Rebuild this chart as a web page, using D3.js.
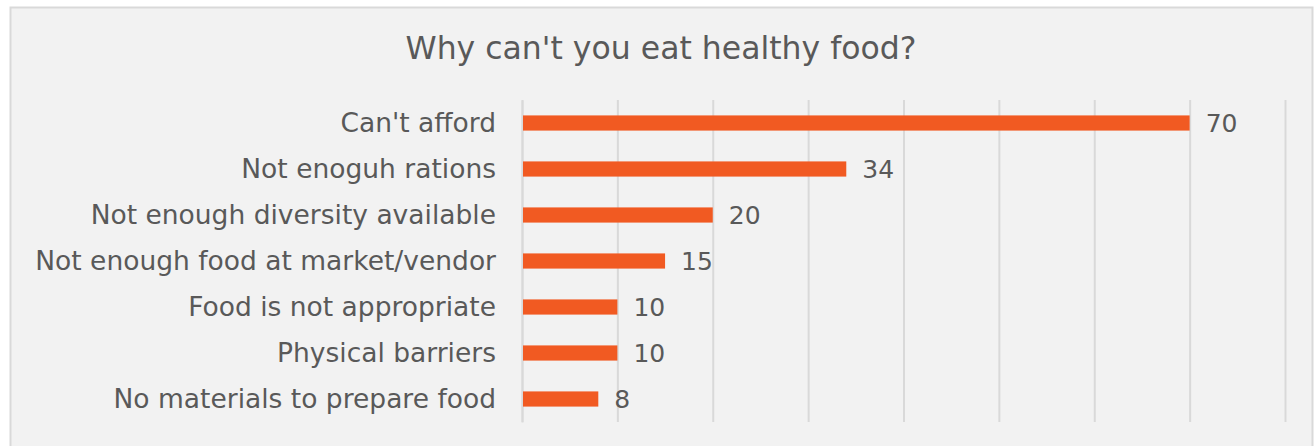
<!DOCTYPE html>
<html>
<head>
<meta charset="utf-8">
<script src="https://cdn.jsdelivr.net/npm/d3@7"></script>
<style>
  html, body { margin: 0; padding: 0; background: #ffffff; }
  svg { display: block; }
</style>
</head>
<body>
<svg id="chart" width="1315" height="446"></svg>
<script>
// Reasons people gave for not eating healthy food (counts)
const categories = [
  "Can't afford",
  "Not enoguh rations",
  "Not enough diversity available",
  "Not enough food at market/vendor",
  "Food is not appropriate",
  "Physical barriers",
  "No materials to prepare food"
];
const counts = [70, 34, 20, 15, 10, 10, 8];
const tickValues = [0, 10, 20, 30, 40, 50, 60, 70, 80];
const chartTitle = "Why can't you eat healthy food?";

const W = 1315, H = 446;
const margin = { left: 522, right: 30, top: 100, bottom: 24 };
const font = "'DejaVu Sans', Verdana, sans-serif";
const textColor = "#595959";
const barColor = "#f15a22";

const svg = d3.select("#chart");

// Chart area frame
svg.append("rect")
  .attr("x", 10.5).attr("y", 7.5)
  .attr("width", W - 13).attr("height", H + 20)
  .attr("fill", "#f2f2f2")
  .attr("stroke", "#d9d9d9")
  .attr("stroke-width", 2);

const x = d3.scaleLinear()
  .domain([0, 80])
  .range([margin.left, margin.left + 763]);

const y = d3.scaleBand()
  .domain(categories)
  .range([margin.top, margin.top + 322])
  .paddingInner(0.67)
  .paddingOuter(0.335);

// Vertical gridlines
const grid = svg.append("g")
  .attr("transform", `translate(0,${margin.top})`)
  .call(d3.axisBottom(x).tickValues(tickValues).tickSize(322).tickFormat(""));
grid.select(".domain").remove();
grid.selectAll(".tick line")
  .attr("stroke", "#d9d9d9")
  .attr("stroke-width", 2);

// Category axis on the left
const yAxis = svg.append("g")
  .attr("transform", `translate(${margin.left},0)`)
  .call(d3.axisLeft(y).tickSize(0).tickPadding(26));
yAxis.select(".domain")
  .attr("stroke", "#d9d9d9")
  .attr("stroke-width", 2);
yAxis.selectAll(".tick text")
  .attr("fill", textColor)
  .attr("dy", "0.34em")
  .style("font-family", font)
  .style("font-size", "26.5px");

// Bars
svg.append("g")
  .selectAll("rect")
  .data(categories)
  .join("rect")
  .attr("x", x(0) + 1)
  .attr("y", d => y(d))
  .attr("width", (d, i) => x(counts[i]) - x(0) - 1)
  .attr("height", y.bandwidth())
  .attr("fill", barColor);

// Value labels
svg.append("g")
  .selectAll("text")
  .data(categories)
  .join("text")
  .attr("x", (d, i) => x(counts[i]) + 16)
  .attr("y", d => y(d) + y.bandwidth() / 2)
  .attr("dy", "0.34em")
  .attr("fill", textColor)
  .style("font-family", font)
  .style("font-size", "25px")
  .text((d, i) => counts[i]);

// Title
svg.append("text")
  .attr("x", 661)
  .attr("y", 59)
  .attr("text-anchor", "middle")
  .attr("fill", textColor)
  .style("font-family", font)
  .style("font-size", "31.5px")
  .text(chartTitle);
</script>
</body>
</html>
